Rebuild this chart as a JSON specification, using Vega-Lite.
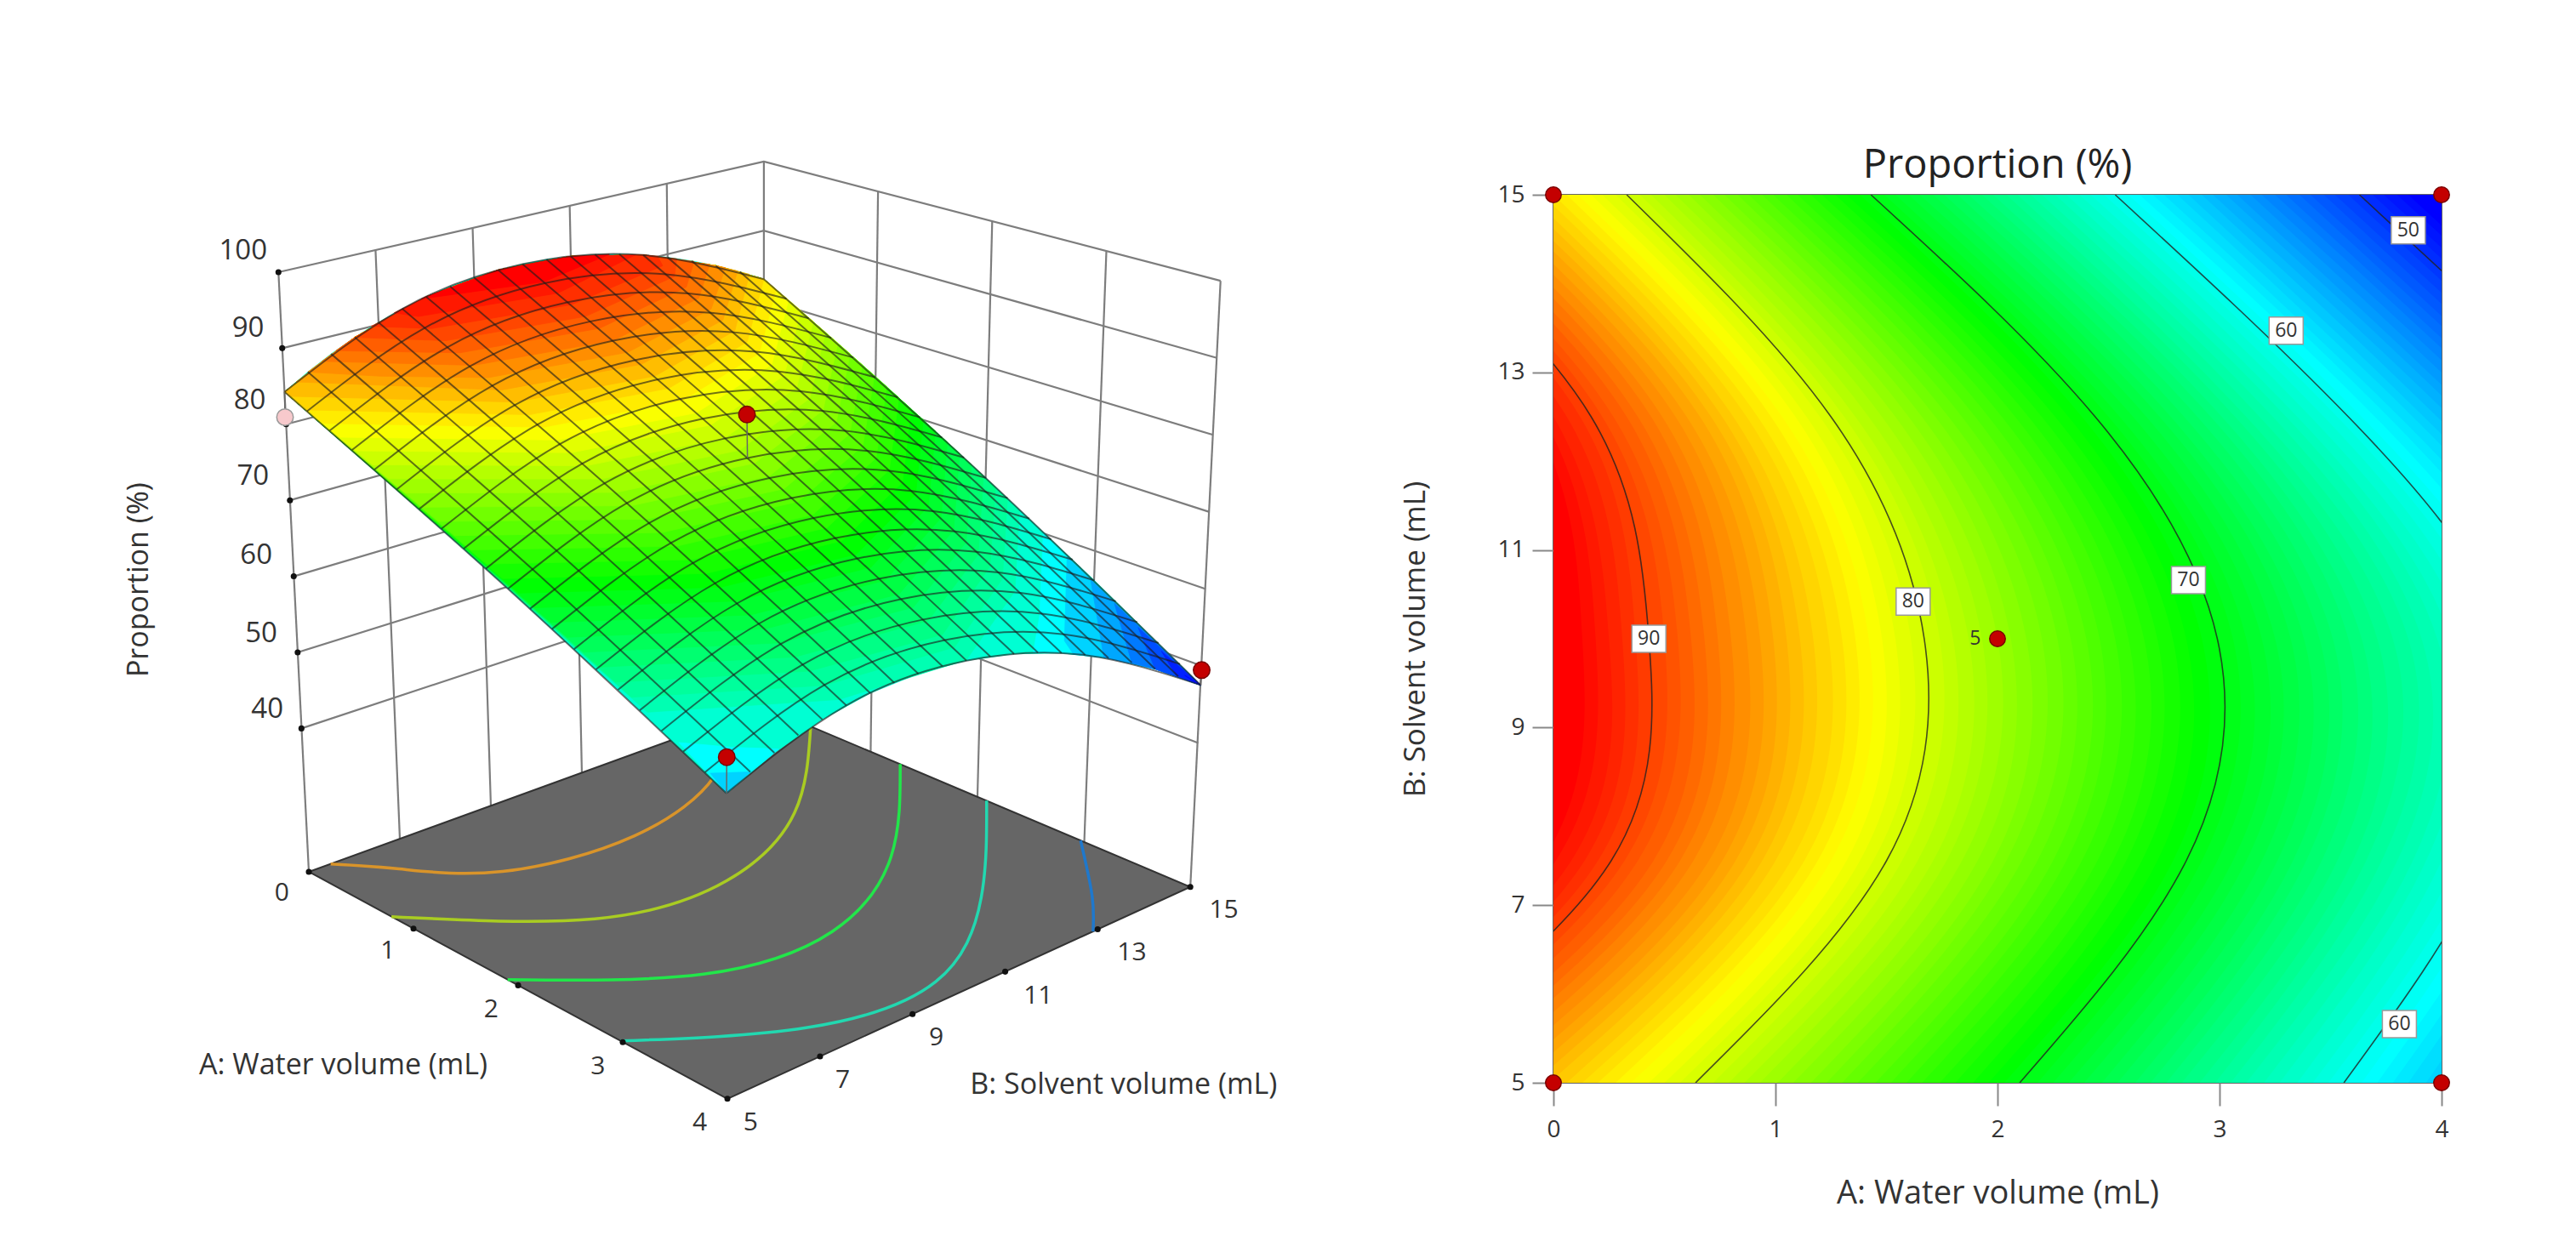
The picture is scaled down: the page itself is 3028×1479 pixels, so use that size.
{"$schema":"https://vega.github.io/schema/vega-lite/v6.json","background":"white","padding":{"left":0,"top":170,"right":0,"bottom":0},"config":{"font":"Open Sans","view":{"stroke":null},"text":{"font":"Open Sans"}},"spacing":45,"hconcat":[
{"width":1600,"height":1243,"encoding":{"x":{"field":"x","type":"quantitative","axis":null,"scale":{"domain":[0,828.6],"nice":false,"zero":false}},"y":{"field":"y","type":"quantitative","axis":null,"scale":{"domain":[761.3,117.6],"nice":false,"zero":false}}},"layer":[
{"data":{"values":[
{"g":"a0","x":169.5,"y":164.7},{"g":"a0","x":465,"y":97.4},{"g":"a0","x":743,"y":170},
{"g":"a1","x":171.8,"y":211},{"g":"a1","x":465,"y":139.4},{"g":"a1","x":740.7,"y":216.9},
{"g":"a2","x":174.2,"y":257.3},{"g":"a2","x":465,"y":181.4},{"g":"a2","x":738.5,"y":263.8},
{"g":"a3","x":176.5,"y":303.6},{"g":"a3","x":465,"y":223.4},{"g":"a3","x":736.2,"y":310.7},
{"g":"a4","x":178.8,"y":349.9},{"g":"a4","x":465,"y":265.4},{"g":"a4","x":734,"y":357.6},
{"g":"a5","x":181.2,"y":396.2},{"g":"a5","x":465,"y":307.4},{"g":"a5","x":731.7,"y":404.5},
{"g":"a6","x":183.5,"y":442.5},{"g":"a6","x":465,"y":349.4},{"g":"a6","x":729.4,"y":451.4},
{"g":"v0","x":169.5,"y":164.7},{"g":"v0","x":188,"y":529.8},
{"g":"v1","x":228.6,"y":151.2},{"g":"v1","x":243.4,"y":509.7},
{"g":"v2","x":287.7,"y":137.8},{"g":"v2","x":298.8,"y":489.6},
{"g":"v3","x":346.8,"y":124.3},{"g":"v3","x":354.2,"y":469.4},
{"g":"v4","x":405.9,"y":110.9},{"g":"v4","x":409.6,"y":449.3},
{"g":"v5","x":465,"y":97.4},{"g":"v5","x":465,"y":429.2},
{"g":"v6","x":534.5,"y":115.6},{"g":"v6","x":530,"y":457},
{"g":"v7","x":604,"y":133.7},{"g":"v7","x":595,"y":484.9},
{"g":"v8","x":673.5,"y":151.9},{"g":"v8","x":660,"y":512.7},
{"g":"v9","x":743,"y":170},{"g":"v9","x":724.6,"y":539}]},
"mark":{"type":"line","stroke":"#7d7d7d","strokeWidth":2.2},"encoding":{"detail":{"field":"g"},"order":{"value":null}}},
{"data":{"values":[{"g":"floor","x":188,"y":529.8},{"g":"floor","x":442.8,"y":668},{"g":"floor","x":724.6,"y":539},{"g":"floor","x":465,"y":429.2}]},
"mark":{"type":"line","interpolate":"linear-closed","fill":"#666666","stroke":"#333333","strokeWidth":2},"encoding":{"detail":{"field":"g"},"order":{"value":null}}},
{"data":{"values":[
{"k":"c86","x":201.3,"y":525},{"k":"c86","x":243,"y":528},{"k":"c86","x":305.9,"y":529.6},{"k":"c86","x":386,"y":508},{"k":"c86","x":434.8,"y":471.7},{"k":"c86","x":442.6,"y":437.2},
{"k":"c79","x":238.3,"y":557.1},{"k":"c79","x":362.3,"y":558.4},{"k":"c79","x":442.3,"y":535.3},{"k":"c79","x":483.6,"y":494},{"k":"c79","x":493.5,"y":441.1},
{"k":"c71","x":309,"y":595.4},{"k":"c71","x":428.2,"y":592.1},{"k":"c71","x":506.6,"y":566.2},{"k":"c71","x":542.4,"y":520.6},{"k":"c71","x":548,"y":464.2},
{"k":"c64","x":377.8,"y":632.8},{"k":"c64","x":491.5,"y":624.6},{"k":"c64","x":569.6,"y":596.7},{"k":"c64","x":597.3,"y":545.5},{"k":"c64","x":600.6,"y":486.5},
{"k":"c56","x":657.8,"y":510.7},{"k":"c56","x":664.8,"y":544.3},{"k":"c56","x":665.4,"y":566.1}]},
"mark":{"type":"line","interpolate":"natural","strokeWidth":3.5},"encoding":{"order":{"value":null},"color":{"field":"k","type":"nominal","legend":null,"scale":{"domain":["c86","c79","c71","c64","c56"],"range":["#d9942a","#a9cc22","#22e64a","#22d8b0","#1f78cc"]}}}},
{"data":{"values":[
{"c":61.01,"x":173.2,"y":237.6},{"c":61.01,"x":187.4,"y":225.5},{"c":61.01,"x":201.6,"y":214.5},{"c":61.01,"x":216,"y":204.4},{"c":61.01,"x":230.4,"y":195.2},{"c":61.01,"x":244.9,"y":187},{"c":61.01,"x":259.5,"y":179.7},{"c":61.01,"x":274,"y":173.4},{"c":61.01,"x":288.6,"y":168},{"c":61.01,"x":303.3,"y":163.4},{"c":61.01,"x":318.1,"y":159.8},{"c":61.01,"x":332.7,"y":157},{"c":61.01,"x":347.5,"y":155.1},{"c":61.01,"x":362.2,"y":154},{"c":61.01,"x":377,"y":153.7},{"c":61.01,"x":391.6,"y":154.3},{"c":61.01,"x":406.4,"y":155.7},{"c":61.01,"x":421.1,"y":157.9},{"c":61.01,"x":435.8,"y":160.8},{"c":61.01,"x":450.4,"y":164.5},{"c":61.01,"x":465,"y":169},
{"c":61.01,"x":533,"y":228.8},{"c":61.01,"x":600.1,"y":290},{"c":61.01,"x":666.2,"y":352.4},
{"c":61.01,"x":731,"y":416.2},{"c":61.01,"x":703.2,"y":406.3},{"c":61.01,"x":674.8,"y":399.7},{"c":61.01,"x":646.2,"y":396.6},{"c":61.01,"x":617.3,"y":397.1},{"c":61.01,"x":588.3,"y":401.2},{"c":61.01,"x":559,"y":409.2},{"c":61.01,"x":529.8,"y":421},{"c":61.01,"x":500.6,"y":437.1},{"c":61.01,"x":471.4,"y":457.4},{"c":61.01,"x":442.3,"y":482},
{"c":61.01,"x":376.2,"y":419},{"c":61.01,"x":309.3,"y":357.4},{"c":61.01,"x":241.6,"y":296.9},
{"c":59.01,"x":731,"y":416.2},{"c":59.01,"x":635.1,"y":323.7},{"c":59.01,"x":632.9,"y":374},{"c":59.01,"x":629,"y":396.4},{"c":59.01,"x":646.2,"y":396.6},{"c":59.01,"x":674.8,"y":399.7},{"c":59.01,"x":703.2,"y":406.3},
{"c":59.02,"x":442.3,"y":482},{"c":59.02,"x":413.2,"y":451.1},{"c":59.02,"x":446,"y":454},{"c":59.02,"x":474,"y":455},
{"c":57.01,"x":731,"y":416.2},{"c":57.01,"x":649.6,"y":337.9},{"c":57.01,"x":648,"y":389.2},{"c":57.01,"x":653.4,"y":397.2},{"c":57.01,"x":674.8,"y":399.7},{"c":57.01,"x":703.2,"y":406.3},
{"c":57.02,"x":442.3,"y":482},{"c":57.02,"x":432.4,"y":469.8},{"c":57.02,"x":456.8,"y":469},
{"c":55.01,"x":731,"y":416.2},{"c":55.01,"x":664,"y":352.1},{"c":55.01,"x":672,"y":399.3},{"c":55.01,"x":703.2,"y":406.3},
{"c":53.01,"x":731,"y":416.2},{"c":53.01,"x":678.4,"y":366.4},{"c":53.01,"x":689,"y":402.5},{"c":53.01,"x":703.2,"y":406.3},
{"c":51.01,"x":731,"y":416.2},{"c":51.01,"x":692.8,"y":381},{"c":51.01,"x":703.2,"y":406.3},
{"c":49.01,"x":731,"y":416.2},{"c":49.01,"x":707,"y":395.5},{"c":49.01,"x":716,"y":410.3},
{"c":47.51,"x":731,"y":416.2},{"c":47.51,"x":721.2,"y":410.2},{"c":47.51,"x":728,"y":414.5},
{"c":62.5,"x":394.1,"y":432.6},{"c":62.5,"x":510.6,"y":424.9},{"c":62.5,"x":588.3,"y":400.7},{"c":62.5,"x":617.8,"y":358.9},{"c":62.5,"x":620.6,"y":309.7},{"c":62.5,"x":546.5,"y":240.9},{"c":62.5,"x":465,"y":169},{"c":62.5,"x":435.8,"y":160.8},{"c":62.5,"x":391.6,"y":154.3},{"c":62.5,"x":347.5,"y":155.1},{"c":62.5,"x":303.3,"y":163.4},{"c":62.5,"x":259.5,"y":179.7},{"c":62.5,"x":216,"y":204.4},{"c":62.5,"x":173.2,"y":237.6},{"c":62.5,"x":282.3,"y":333},
{"c":63.5,"x":384.4,"y":423.5},{"c":63.5,"x":501.7,"y":416.3},{"c":63.5,"x":581.1,"y":393},{"c":63.5,"x":610.2,"y":351.4},{"c":63.5,"x":613.3,"y":302.7},{"c":63.5,"x":546.5,"y":240.9},{"c":63.5,"x":465,"y":169},{"c":63.5,"x":435.8,"y":160.8},{"c":63.5,"x":391.6,"y":154.3},{"c":63.5,"x":347.5,"y":155.1},{"c":63.5,"x":303.3,"y":163.4},{"c":63.5,"x":259.5,"y":179.7},{"c":63.5,"x":216,"y":204.4},{"c":63.5,"x":173.2,"y":237.6},{"c":63.5,"x":282.3,"y":333},
{"c":64.5,"x":374.7,"y":414.3},{"c":64.5,"x":492.7,"y":407.6},{"c":64.5,"x":573.8,"y":385.3},{"c":64.5,"x":602.6,"y":343.9},{"c":64.5,"x":606,"y":295.7},{"c":64.5,"x":533,"y":228.8},{"c":64.5,"x":465,"y":169},{"c":64.5,"x":435.8,"y":160.8},{"c":64.5,"x":391.6,"y":154.3},{"c":64.5,"x":347.5,"y":155.1},{"c":64.5,"x":303.3,"y":163.4},{"c":64.5,"x":259.5,"y":179.7},{"c":64.5,"x":216,"y":204.4},{"c":64.5,"x":173.2,"y":237.6},{"c":64.5,"x":268.8,"y":320.9},
{"c":65.5,"x":365,"y":405.2},{"c":65.5,"x":483.7,"y":399},{"c":65.5,"x":564.9,"y":377},{"c":65.5,"x":595.4,"y":336.6},{"c":65.5,"x":598.7,"y":288.8},{"c":65.5,"x":533,"y":228.8},{"c":65.5,"x":465,"y":169},{"c":65.5,"x":435.8,"y":160.8},{"c":65.5,"x":391.6,"y":154.3},{"c":65.5,"x":347.5,"y":155.1},{"c":65.5,"x":303.3,"y":163.4},{"c":65.5,"x":259.5,"y":179.7},{"c":65.5,"x":216,"y":204.4},{"c":65.5,"x":173.2,"y":237.6},{"c":65.5,"x":268.8,"y":320.9},
{"c":66.5,"x":355.3,"y":396.1},{"c":66.5,"x":474.7,"y":390.4},{"c":66.5,"x":556,"y":368.7},{"c":66.5,"x":588.1,"y":329.2},{"c":66.5,"x":591.4,"y":281.9},{"c":66.5,"x":533,"y":228.8},{"c":66.5,"x":465,"y":169},{"c":66.5,"x":435.8,"y":160.8},{"c":66.5,"x":391.6,"y":154.3},{"c":66.5,"x":347.5,"y":155.1},{"c":66.5,"x":303.3,"y":163.4},{"c":66.5,"x":259.5,"y":179.7},{"c":66.5,"x":216,"y":204.4},{"c":66.5,"x":173.2,"y":237.6},{"c":66.5,"x":268.8,"y":320.9},
{"c":67.5,"x":345.3,"y":387},{"c":67.5,"x":465.8,"y":381.9},{"c":67.5,"x":547.4,"y":360.6},{"c":67.5,"x":580.5,"y":321.8},{"c":67.5,"x":584.1,"y":275},{"c":67.5,"x":519.5,"y":216.7},{"c":67.5,"x":465,"y":169},{"c":67.5,"x":435.8,"y":160.8},{"c":67.5,"x":391.6,"y":154.3},{"c":67.5,"x":347.5,"y":155.1},{"c":67.5,"x":303.3,"y":163.4},{"c":67.5,"x":259.5,"y":179.7},{"c":67.5,"x":216,"y":204.4},{"c":67.5,"x":173.2,"y":237.6},{"c":67.5,"x":255.2,"y":308.9},
{"c":68.5,"x":335.3,"y":377.9},{"c":68.5,"x":456.8,"y":373.4},{"c":68.5,"x":538.7,"y":352.4},{"c":68.5,"x":572.8,"y":314.4},{"c":68.5,"x":576.7,"y":268.2},{"c":68.5,"x":519.5,"y":216.7},{"c":68.5,"x":465,"y":169},{"c":68.5,"x":435.8,"y":160.8},{"c":68.5,"x":391.6,"y":154.3},{"c":68.5,"x":347.5,"y":155.1},{"c":68.5,"x":303.3,"y":163.4},{"c":68.5,"x":259.5,"y":179.7},{"c":68.5,"x":216,"y":204.4},{"c":68.5,"x":173.2,"y":237.6},{"c":68.5,"x":255.2,"y":308.9},
{"c":69.5,"x":325.6,"y":369},{"c":69.5,"x":447.8,"y":365},{"c":69.5,"x":530.1,"y":344.4},{"c":69.5,"x":565.1,"y":307.2},{"c":69.5,"x":569.4,"y":261.4},{"c":69.5,"x":519.5,"y":216.7},{"c":69.5,"x":465,"y":169},{"c":69.5,"x":435.8,"y":160.8},{"c":69.5,"x":391.6,"y":154.3},{"c":69.5,"x":347.5,"y":155.1},{"c":69.5,"x":303.3,"y":163.4},{"c":69.5,"x":259.5,"y":179.7},{"c":69.5,"x":216,"y":204.4},{"c":69.5,"x":173.2,"y":237.6},{"c":69.5,"x":241.6,"y":296.9},
{"c":70.5,"x":315.8,"y":360.1},{"c":70.5,"x":438.8,"y":356.5},{"c":70.5,"x":521.4,"y":336.4},{"c":70.5,"x":557.4,"y":299.9},{"c":70.5,"x":562,"y":254.6},{"c":70.5,"x":519.5,"y":216.7},{"c":70.5,"x":465,"y":169},{"c":70.5,"x":435.8,"y":160.8},{"c":70.5,"x":391.6,"y":154.3},{"c":70.5,"x":347.5,"y":155.1},{"c":70.5,"x":303.3,"y":163.4},{"c":70.5,"x":259.5,"y":179.7},{"c":70.5,"x":216,"y":204.4},{"c":70.5,"x":173.2,"y":237.6},{"c":70.5,"x":241.6,"y":296.9},
{"c":71.5,"x":306,"y":351.3},{"c":71.5,"x":429.7,"y":348.2},{"c":71.5,"x":512.4,"y":328.4},{"c":71.5,"x":549.4,"y":292.6},{"c":71.5,"x":554.6,"y":247.9},{"c":71.5,"x":506,"y":204.7},{"c":71.5,"x":465,"y":169},{"c":71.5,"x":435.8,"y":160.8},{"c":71.5,"x":391.6,"y":154.3},{"c":71.5,"x":347.5,"y":155.1},{"c":71.5,"x":303.3,"y":163.4},{"c":71.5,"x":259.5,"y":179.7},{"c":71.5,"x":216,"y":204.4},{"c":71.5,"x":173.2,"y":237.6},{"c":71.5,"x":241.6,"y":296.9},
{"c":72.5,"x":296.3,"y":342.4},{"c":72.5,"x":420.6,"y":339.8},{"c":72.5,"x":503.4,"y":320.3},{"c":72.5,"x":541.3,"y":285.2},{"c":72.5,"x":547.2,"y":241.1},{"c":72.5,"x":506,"y":204.7},{"c":72.5,"x":465,"y":169},{"c":72.5,"x":435.8,"y":160.8},{"c":72.5,"x":391.6,"y":154.3},{"c":72.5,"x":347.5,"y":155.1},{"c":72.5,"x":303.3,"y":163.4},{"c":72.5,"x":259.5,"y":179.7},{"c":72.5,"x":216,"y":204.4},{"c":72.5,"x":173.2,"y":237.6},{"c":72.5,"x":241.6,"y":296.9},
{"c":73.5,"x":286.6,"y":333.8},{"c":73.5,"x":411.6,"y":331.6},{"c":73.5,"x":494.7,"y":312.4},{"c":73.5,"x":533.3,"y":277.9},{"c":73.5,"x":539.8,"y":234.4},{"c":73.5,"x":506,"y":204.7},{"c":73.5,"x":465,"y":169},{"c":73.5,"x":435.8,"y":160.8},{"c":73.5,"x":391.6,"y":154.3},{"c":73.5,"x":347.5,"y":155.1},{"c":73.5,"x":303.3,"y":163.4},{"c":73.5,"x":259.5,"y":179.7},{"c":73.5,"x":216,"y":204.4},{"c":73.5,"x":173.2,"y":237.6},{"c":73.5,"x":228,"y":284.9},
{"c":74.5,"x":276.8,"y":325.1},{"c":74.5,"x":402.6,"y":323.3},{"c":74.5,"x":485.9,"y":304.4},{"c":74.5,"x":525.2,"y":270.5},{"c":74.5,"x":532.3,"y":227.7},{"c":74.5,"x":492.3,"y":192.8},{"c":74.5,"x":465,"y":169},{"c":74.5,"x":435.8,"y":160.8},{"c":74.5,"x":391.6,"y":154.3},{"c":74.5,"x":347.5,"y":155.1},{"c":74.5,"x":303.3,"y":163.4},{"c":74.5,"x":259.5,"y":179.7},{"c":74.5,"x":216,"y":204.4},{"c":74.5,"x":173.2,"y":237.6},{"c":74.5,"x":228,"y":284.9},
{"c":75.5,"x":267,"y":316.5},{"c":75.5,"x":393.5,"y":315.1},{"c":75.5,"x":477.2,"y":296.6},{"c":75.5,"x":517.2,"y":263.3},{"c":75.5,"x":524.9,"y":221.1},{"c":75.5,"x":492.3,"y":192.8},{"c":75.5,"x":465,"y":169},{"c":75.5,"x":435.8,"y":160.8},{"c":75.5,"x":391.6,"y":154.3},{"c":75.5,"x":347.5,"y":155.1},{"c":75.5,"x":303.3,"y":163.4},{"c":75.5,"x":259.5,"y":179.7},{"c":75.5,"x":216,"y":204.4},{"c":75.5,"x":173.2,"y":237.6},{"c":75.5,"x":214.3,"y":273},
{"c":76.5,"x":257.1,"y":307.8},{"c":76.5,"x":384.3,"y":306.9},{"c":76.5,"x":468.4,"y":288.8},{"c":76.5,"x":509.1,"y":256},{"c":76.5,"x":517.5,"y":214.4},{"c":76.5,"x":492.3,"y":192.8},{"c":76.5,"x":465,"y":169},{"c":76.5,"x":435.8,"y":160.8},{"c":76.5,"x":391.6,"y":154.3},{"c":76.5,"x":347.5,"y":155.1},{"c":76.5,"x":303.3,"y":163.4},{"c":76.5,"x":259.5,"y":179.7},{"c":76.5,"x":216,"y":204.4},{"c":76.5,"x":173.2,"y":237.6},{"c":76.5,"x":214.3,"y":273},
{"c":77.5,"x":246.9,"y":299.2},{"c":77.5,"x":375.2,"y":298.8},{"c":77.5,"x":459.3,"y":281},{"c":77.5,"x":501,"y":248.8},{"c":77.5,"x":510,"y":207.9},{"c":77.5,"x":478.7,"y":180.9},{"c":77.5,"x":465,"y":169},{"c":77.5,"x":435.8,"y":160.8},{"c":77.5,"x":391.6,"y":154.3},{"c":77.5,"x":347.5,"y":155.1},{"c":77.5,"x":303.3,"y":163.4},{"c":77.5,"x":259.5,"y":179.7},{"c":77.5,"x":216,"y":204.4},{"c":77.5,"x":173.2,"y":237.6},{"c":77.5,"x":214.3,"y":273},
{"c":78.5,"x":236.7,"y":290.5},{"c":78.5,"x":366.1,"y":290.6},{"c":78.5,"x":450.2,"y":273.1},{"c":78.5,"x":492.9,"y":241.6},{"c":78.5,"x":502.5,"y":201.3},{"c":78.5,"x":478.7,"y":180.9},{"c":78.5,"x":465,"y":169},{"c":78.5,"x":435.8,"y":160.8},{"c":78.5,"x":391.6,"y":154.3},{"c":78.5,"x":347.5,"y":155.1},{"c":78.5,"x":303.3,"y":163.4},{"c":78.5,"x":259.5,"y":179.7},{"c":78.5,"x":216,"y":204.4},{"c":78.5,"x":173.2,"y":237.6},{"c":78.5,"x":200.7,"y":261.2},
{"c":79.5,"x":226.9,"y":282},{"c":79.5,"x":356.9,"y":282.6},{"c":79.5,"x":441.4,"y":265.5},{"c":79.5,"x":485.1,"y":234.7},{"c":79.5,"x":495.1,"y":194.8},{"c":79.5,"x":465,"y":169},{"c":79.5,"x":435.8,"y":160.8},{"c":79.5,"x":391.6,"y":154.3},{"c":79.5,"x":347.5,"y":155.1},{"c":79.5,"x":303.3,"y":163.4},{"c":79.5,"x":259.5,"y":179.7},{"c":79.5,"x":216,"y":204.4},{"c":79.5,"x":173.2,"y":237.6},{"c":79.5,"x":200.7,"y":261.2},
{"c":80.5,"x":217,"y":273.5},{"c":80.5,"x":347.7,"y":274.6},{"c":80.5,"x":432.5,"y":257.8},{"c":80.5,"x":477.3,"y":227.7},{"c":80.5,"x":487.6,"y":188.2},{"c":80.5,"x":465,"y":169},{"c":80.5,"x":435.8,"y":160.8},{"c":80.5,"x":391.6,"y":154.3},{"c":80.5,"x":347.5,"y":155.1},{"c":80.5,"x":303.3,"y":163.4},{"c":80.5,"x":259.5,"y":179.7},{"c":80.5,"x":216,"y":204.4},{"c":80.5,"x":173.2,"y":237.6},{"c":80.5,"x":200.7,"y":261.2},
{"c":81.5,"x":207,"y":265.2},{"c":81.5,"x":339.3,"y":266.9},{"c":81.5,"x":424,"y":250.3},{"c":81.5,"x":469.8,"y":220.9},{"c":81.5,"x":480,"y":181.7},{"c":81.5,"x":465,"y":169},{"c":81.5,"x":435.8,"y":160.8},{"c":81.5,"x":391.6,"y":154.3},{"c":81.5,"x":347.5,"y":155.1},{"c":81.5,"x":303.3,"y":163.4},{"c":81.5,"x":259.5,"y":179.7},{"c":81.5,"x":216,"y":204.4},{"c":81.5,"x":173.2,"y":237.6},{"c":81.5,"x":186.9,"y":249.4},
{"c":82.5,"x":197.1,"y":256.8},{"c":82.5,"x":330.8,"y":259.1},{"c":82.5,"x":415.6,"y":242.8},{"c":82.5,"x":462.2,"y":214},{"c":82.5,"x":472.5,"y":175.2},{"c":82.5,"x":465,"y":169},{"c":82.5,"x":435.8,"y":160.8},{"c":82.5,"x":391.6,"y":154.3},{"c":82.5,"x":347.5,"y":155.1},{"c":82.5,"x":303.3,"y":163.4},{"c":82.5,"x":259.5,"y":179.7},{"c":82.5,"x":216,"y":204.4},{"c":82.5,"x":173.2,"y":237.6},{"c":82.5,"x":186.9,"y":249.4},
{"c":83.5,"x":187.2,"y":248.6},{"c":83.5,"x":322.3,"y":251.5},{"c":83.5,"x":407.1,"y":235.4},{"c":83.5,"x":454.8,"y":207.2},{"c":83.5,"x":465,"y":169},{"c":83.5,"x":435.8,"y":160.8},{"c":83.5,"x":391.6,"y":154.3},{"c":83.5,"x":347.5,"y":155.1},{"c":83.5,"x":303.3,"y":163.4},{"c":83.5,"x":259.5,"y":179.7},{"c":83.5,"x":216,"y":204.4},{"c":83.5,"x":173.2,"y":237.6},
{"c":84.5,"x":177.2,"y":240.3},{"c":84.5,"x":313.7,"y":243.8},{"c":84.5,"x":398.6,"y":228},{"c":84.5,"x":447.3,"y":200.4},{"c":84.5,"x":456.2,"y":166},{"c":84.5,"x":435.8,"y":160.8},{"c":84.5,"x":391.6,"y":154.3},{"c":84.5,"x":347.5,"y":155.1},{"c":84.5,"x":303.3,"y":163.4},{"c":84.5,"x":259.5,"y":179.7},{"c":84.5,"x":216,"y":204.4},{"c":84.5,"x":173.2,"y":237.6},
{"c":85.5,"x":180.3,"y":231.5},{"c":85.5,"x":305.5,"y":236.4},{"c":85.5,"x":390.4,"y":220.8},{"c":85.5,"x":440.1,"y":193.8},{"c":85.5,"x":449,"y":164},{"c":85.5,"x":435.8,"y":160.8},{"c":85.5,"x":391.6,"y":154.3},{"c":85.5,"x":347.5,"y":155.1},{"c":85.5,"x":303.3,"y":163.4},{"c":85.5,"x":259.5,"y":179.7},{"c":85.5,"x":216,"y":204.4},
{"c":86.5,"x":187.4,"y":225.5},{"c":86.5,"x":231,"y":228},{"c":86.5,"x":297.2,"y":228.9},{"c":86.5,"x":382.1,"y":213.5},{"c":86.5,"x":432.9,"y":187.1},{"c":86.5,"x":441.6,"y":162},{"c":86.5,"x":435.8,"y":160.8},{"c":86.5,"x":391.6,"y":154.3},{"c":86.5,"x":347.5,"y":155.1},{"c":86.5,"x":303.3,"y":163.4},{"c":86.5,"x":259.5,"y":179.7},{"c":86.5,"x":216,"y":204.4},
{"c":87.5,"x":196,"y":219},{"c":87.5,"x":288.6,"y":221.4},{"c":87.5,"x":373.6,"y":206.2},{"c":87.5,"x":425.4,"y":180.5},{"c":87.5,"x":432,"y":160},{"c":87.5,"x":391.6,"y":154.3},{"c":87.5,"x":347.5,"y":155.1},{"c":87.5,"x":303.3,"y":163.4},{"c":87.5,"x":259.5,"y":179.7},{"c":87.5,"x":216,"y":204.4},
{"c":88.5,"x":204.5,"y":212.5},{"c":88.5,"x":280,"y":213.8},{"c":88.5,"x":365,"y":198.9},{"c":88.5,"x":417.8,"y":173.8},{"c":88.5,"x":422.5,"y":158.2},{"c":88.5,"x":391.6,"y":154.3},{"c":88.5,"x":347.5,"y":155.1},{"c":88.5,"x":303.3,"y":163.4},{"c":88.5,"x":259.5,"y":179.7},{"c":88.5,"x":216,"y":204.4},
{"c":89.5,"x":216,"y":204.4},{"c":89.5,"x":271.4,"y":206.4},{"c":89.5,"x":356.4,"y":191.7},{"c":89.5,"x":410.6,"y":167.3},{"c":89.5,"x":412,"y":156.6},{"c":89.5,"x":391.6,"y":154.3},{"c":89.5,"x":347.5,"y":155.1},{"c":89.5,"x":303.3,"y":163.4},{"c":89.5,"x":259.5,"y":179.7},
{"c":90.5,"x":226,"y":197.7},{"c":90.5,"x":262.8,"y":199},{"c":90.5,"x":347.8,"y":184.5},{"c":90.5,"x":403.4,"y":160.8},{"c":90.5,"x":400.3,"y":155},{"c":90.5,"x":391.6,"y":154.3},{"c":90.5,"x":347.5,"y":155.1},{"c":90.5,"x":303.3,"y":163.4},{"c":90.5,"x":259.5,"y":179.7},
{"c":91.5,"x":240,"y":189.5},{"c":91.5,"x":254.5,"y":191.7},{"c":91.5,"x":339.5,"y":177.5},{"c":91.5,"x":387,"y":154.1},{"c":91.5,"x":347.5,"y":155.1},{"c":91.5,"x":303.3,"y":163.4},{"c":91.5,"x":259.5,"y":179.7},
{"c":92.5,"x":256.5,"y":181},{"c":92.5,"x":331.2,"y":170.5},{"c":92.5,"x":371,"y":153.8},{"c":92.5,"x":347.5,"y":155.1},{"c":92.5,"x":303.3,"y":163.4},{"c":92.5,"x":259.5,"y":179.7}]},
"mark":{"type":"line","interpolate":"linear-closed","strokeWidth":0.8},"encoding":{"detail":{"field":"c"},"order":{"value":null},
"fill":{"field":"c","type":"quantitative","legend":null,"scale":{"domain":[47.5,59,70.6,81.7,92.5],"range":["#0000ff","#00ffff","#00ff00","#ffff00","#ff0000"],"interpolate":"rgb"}},
"stroke":{"field":"c","type":"quantitative","legend":null,"scale":{"domain":[47.5,59,70.6,81.7,92.5],"range":["#0000ff","#00ffff","#00ff00","#ffff00","#ff0000"],"interpolate":"rgb"}}}},
{"data":{"values":[
{"m":0,"x":173.2,"y":237.6},{"m":0,"x":244.9,"y":187},{"m":0,"x":318.1,"y":159.8},{"m":0,"x":391.6,"y":154.3},{"m":0,"x":465,"y":169},
{"m":1,"x":186.9,"y":249.4},{"m":1,"x":258.7,"y":198.6},{"m":1,"x":332,"y":171.3},{"m":1,"x":405.4,"y":166},{"m":1,"x":478.7,"y":180.9},
{"m":2,"x":200.7,"y":261.2},{"m":2,"x":272.5,"y":210.3},{"m":2,"x":345.8,"y":183},{"m":2,"x":419.2,"y":177.7},{"m":2,"x":492.3,"y":192.8},
{"m":3,"x":214.3,"y":273},{"m":3,"x":286.3,"y":221.9},{"m":3,"x":359.5,"y":194.7},{"m":3,"x":432.9,"y":189.5},{"m":3,"x":506,"y":204.7},
{"m":4,"x":228,"y":284.9},{"m":4,"x":300,"y":233.7},{"m":4,"x":373.3,"y":206.4},{"m":4,"x":446.6,"y":201.3},{"m":4,"x":519.5,"y":216.7},
{"m":5,"x":241.6,"y":296.9},{"m":5,"x":313.7,"y":245.5},{"m":5,"x":387,"y":218.2},{"m":5,"x":460.2,"y":213.2},{"m":5,"x":533,"y":228.8},
{"m":6,"x":255.2,"y":308.9},{"m":6,"x":327.4,"y":257.4},{"m":6,"x":400.7,"y":230},{"m":6,"x":473.9,"y":225.2},{"m":6,"x":546.5,"y":240.9},
{"m":7,"x":268.8,"y":320.9},{"m":7,"x":341,"y":269.3},{"m":7,"x":414.3,"y":241.9},{"m":7,"x":487.4,"y":237.2},{"m":7,"x":560,"y":253.1},
{"m":8,"x":282.3,"y":333},{"m":8,"x":354.6,"y":281.2},{"m":8,"x":427.9,"y":253.9},{"m":8,"x":501,"y":249.2},{"m":8,"x":573.4,"y":265.3},
{"m":9,"x":295.8,"y":345.2},{"m":9,"x":368.1,"y":293.2},{"m":9,"x":441.5,"y":265.9},{"m":9,"x":514.5,"y":261.3},{"m":9,"x":586.8,"y":277.6},
{"m":10,"x":309.3,"y":357.4},{"m":10,"x":381.7,"y":305.3},{"m":10,"x":455,"y":277.9},{"m":10,"x":527.9,"y":273.5},{"m":10,"x":600.1,"y":290},
{"m":11,"x":322.7,"y":369.6},{"m":11,"x":395.2,"y":317.4},{"m":11,"x":468.5,"y":290},{"m":11,"x":541.4,"y":285.7},{"m":11,"x":613.4,"y":302.3},
{"m":12,"x":336.1,"y":381.9},{"m":12,"x":408.6,"y":329.5},{"m":12,"x":482,"y":302.2},{"m":12,"x":554.8,"y":297.9},{"m":12,"x":626.6,"y":314.8},
{"m":13,"x":349.5,"y":394.2},{"m":13,"x":422.1,"y":341.7},{"m":13,"x":495.4,"y":314.4},{"m":13,"x":568.1,"y":310.2},{"m":13,"x":639.9,"y":327.3},
{"m":14,"x":362.8,"y":406.6},{"m":14,"x":435.5,"y":354},{"m":14,"x":508.8,"y":326.6},{"m":14,"x":581.4,"y":322.6},{"m":14,"x":653,"y":339.8},
{"m":15,"x":376.2,"y":419},{"m":15,"x":448.8,"y":366.3},{"m":15,"x":522.1,"y":339},{"m":15,"x":594.7,"y":335},{"m":15,"x":666.2,"y":352.4},
{"m":16,"x":389.4,"y":431.5},{"m":16,"x":462.2,"y":378.6},{"m":16,"x":535.5,"y":351.3},{"m":16,"x":608,"y":347.5},{"m":16,"x":679.2,"y":365.1},
{"m":17,"x":402.7,"y":444},{"m":17,"x":475.5,"y":391},{"m":17,"x":548.8,"y":363.7},{"m":17,"x":621.2,"y":360},{"m":17,"x":692.3,"y":377.8},
{"m":18,"x":415.9,"y":456.6},{"m":18,"x":488.8,"y":403.5},{"m":18,"x":562,"y":376.2},{"m":18,"x":634.3,"y":372.6},{"m":18,"x":705.3,"y":390.5},
{"m":19,"x":429.1,"y":469.2},{"m":19,"x":502,"y":416},{"m":19,"x":575.2,"y":388.7},{"m":19,"x":647.5,"y":385.2},{"m":19,"x":718.3,"y":403.3},
{"m":20,"x":442.3,"y":481.9},{"m":20,"x":515.2,"y":428.5},{"m":20,"x":588.4,"y":401.3},{"m":20,"x":660.6,"y":397.9},{"m":20,"x":731.2,"y":416.2},
{"m":21,"x":173.2,"y":237.6},{"m":21,"x":309.2,"y":357.5},{"m":21,"x":442.3,"y":482},
{"m":22,"x":187.4,"y":225.5},{"m":22,"x":323.6,"y":345.1},{"m":22,"x":456.8,"y":469},
{"m":23,"x":201.6,"y":214.5},{"m":23,"x":338,"y":333.6},{"m":23,"x":471.4,"y":457.4},
{"m":24,"x":216,"y":204.4},{"m":24,"x":352.5,"y":323.2},{"m":24,"x":486,"y":446.7},
{"m":25,"x":230.4,"y":195.2},{"m":25,"x":367,"y":313.8},{"m":25,"x":500.6,"y":437.1},
{"m":26,"x":244.9,"y":187},{"m":26,"x":381.7,"y":305.4},{"m":26,"x":515.2,"y":428.5},
{"m":27,"x":259.5,"y":179.7},{"m":27,"x":396.2,"y":298},{"m":27,"x":529.8,"y":421},
{"m":28,"x":274,"y":173.4},{"m":28,"x":410.9,"y":291.6},{"m":28,"x":544.4,"y":414.7},
{"m":29,"x":288.6,"y":168},{"m":29,"x":425.5,"y":286.1},{"m":29,"x":559,"y":409.2},
{"m":30,"x":303.3,"y":163.4},{"m":30,"x":440.2,"y":281.6},{"m":30,"x":573.7,"y":404.6},
{"m":31,"x":318.1,"y":159.8},{"m":31,"x":454.9,"y":277.9},{"m":31,"x":588.3,"y":401.2},
{"m":32,"x":332.7,"y":157},{"m":32,"x":469.5,"y":275.5},{"m":32,"x":602.8,"y":398.7},
{"m":33,"x":347.5,"y":155.1},{"m":33,"x":484.1,"y":273.6},{"m":33,"x":617.3,"y":397.1},
{"m":34,"x":362.2,"y":154},{"m":34,"x":498.8,"y":272.7},{"m":34,"x":631.8,"y":396.3},
{"m":35,"x":377,"y":153.7},{"m":35,"x":513.4,"y":272.6},{"m":35,"x":646.2,"y":396.6},
{"m":36,"x":391.6,"y":154.3},{"m":36,"x":528,"y":273.5},{"m":36,"x":660.6,"y":397.8},
{"m":37,"x":406.4,"y":155.7},{"m":37,"x":542.5,"y":275.2},{"m":37,"x":674.8,"y":399.7},
{"m":38,"x":421.1,"y":157.9},{"m":38,"x":557,"y":277.8},{"m":38,"x":689,"y":402.5},
{"m":39,"x":435.8,"y":160.8},{"m":39,"x":571.4,"y":281},{"m":39,"x":703.2,"y":406.3},
{"m":40,"x":450.4,"y":164.5},{"m":40,"x":585.8,"y":285.1},{"m":40,"x":717.2,"y":410.8},
{"m":41,"x":465,"y":169},{"m":41,"x":600,"y":290},{"m":41,"x":731,"y":416.2}]},
"mark":{"type":"line","interpolate":"natural","stroke":"#1c1c1c","strokeWidth":2,"opacity":0.62},"encoding":{"detail":{"field":"m"},"order":{"value":null}}},
{"data":{"values":[{"g":"s1","x":454.7,"y":251.4},{"g":"s1","x":455,"y":277.9},{"g":"s2","x":442.4,"y":460},{"g":"s2","x":442.3,"y":482},{"g":"s3","x":731.5,"y":407},{"g":"s3","x":731,"y":416.2},{"g":"s4","x":173.5,"y":253},{"g":"s4","x":173.2,"y":237.6}]},
"mark":{"type":"line","stroke":"#666666","strokeWidth":1.5},"encoding":{"detail":{"field":"g"},"order":{"value":null}}},
{"data":{"values":[{"x":169.5,"y":164.7},{"x":171.8,"y":211},{"x":174.2,"y":257.3},{"x":176.5,"y":303.6},{"x":178.8,"y":349.9},{"x":181.2,"y":396.2},{"x":183.5,"y":442.5},{"x":188,"y":529.8},{"x":251.7,"y":564.4},{"x":315.4,"y":598.9},{"x":379.1,"y":633.5},{"x":442.8,"y":668},{"x":499.2,"y":642.2},{"x":555.5,"y":616.4},{"x":611.9,"y":590.6},{"x":668.2,"y":564.8},{"x":724.6,"y":539}]},
"mark":{"type":"point","filled":true,"fill":"#111111","opacity":1,"size":50}},
{"data":{"values":[{"x":454.7,"y":251.4},{"x":442.4,"y":460},{"x":731.5,"y":407}]},
"mark":{"type":"point","filled":true,"fill":"#c40000","stroke":"#7a0000","strokeWidth":1.5,"opacity":1,"size":380}},
{"data":{"values":[{"x":173.5,"y":253}]},
"mark":{"type":"point","filled":true,"fill":"#f7c9cc","stroke":"#999999","strokeWidth":1.5,"opacity":1,"size":380}},
{"data":{"values":[{"x":148,"y":152,"t":"100"},{"x":151,"y":199,"t":"90"},{"x":152,"y":243,"t":"80"},{"x":154,"y":289,"t":"70"},{"x":156,"y":337,"t":"60"},{"x":159,"y":385,"t":"50"},{"x":162.7,"y":431,"t":"40"}]},
"mark":{"type":"text","fontSize":33,"color":"#333333"},"encoding":{"text":{"field":"t"}}},
{"data":{"values":[{"x":171.6,"y":543,"t":"0"},{"x":236,"y":578,"t":"1"},{"x":299,"y":613.7,"t":"2"},{"x":364,"y":648.5,"t":"3"},{"x":426,"y":682.6,"t":"4"},{"x":457,"y":682.6,"t":"5"},{"x":513,"y":656.6,"t":"7"},{"x":570,"y":630.8,"t":"9"},{"x":632,"y":605.4,"t":"11"},{"x":689,"y":579,"t":"13"},{"x":745,"y":553,"t":"15"}]},
"mark":{"type":"text","fontSize":30,"color":"#333333"},"encoding":{"text":{"field":"t"}}},
{"data":{"values":[{"x":209,"y":648,"t":"A: Water volume (mL)"},{"x":684,"y":660,"t":"B: Solvent volume (mL)"}]},
"mark":{"type":"text","fontSize":34,"color":"#333333"},"encoding":{"text":{"field":"t"}}},
{"data":{"values":[{"x":85,"y":352,"t":"Proportion (%)"}]},
"mark":{"type":"text","fontSize":34,"color":"#333333","angle":270},"encoding":{"text":{"field":"t"}}}
]},
{"width":1044,"height":1044,"title":{"text":"Proportion (%)","fontSize":47,"fontWeight":"normal","color":"#222222","font":"Open Sans","offset":-4,"anchor":"middle"},"view":{"stroke":"#666666","strokeWidth":2},
"data":{"values":[
{"l":46,"b":5,"a":5.61},{"l":46,"b":7.5,"a":6.09},{"l":46,"b":10,"a":6.14},{"l":46,"b":12.5,"a":5.18},{"l":46,"b":15,"a":4.07},
{"l":47,"b":5,"a":5.46},{"l":47,"b":7.5,"a":5.96},{"l":47,"b":10,"a":6.01},{"l":47,"b":12.5,"a":5.06},{"l":47,"b":15,"a":3.96},
{"l":47.5,"b":5,"a":5.39},{"l":47.5,"b":7.5,"a":5.89},{"l":47.5,"b":10,"a":5.95},{"l":47.5,"b":12.5,"a":5},{"l":47.5,"b":15,"a":3.91},
{"l":48,"b":5,"a":5.31},{"l":48,"b":7.5,"a":5.82},{"l":48,"b":10,"a":5.88},{"l":48,"b":12.5,"a":4.95},{"l":48,"b":15,"a":3.85},
{"l":48.5,"b":5,"a":5.24},{"l":48.5,"b":7.5,"a":5.76},{"l":48.5,"b":10,"a":5.82},{"l":48.5,"b":12.5,"a":4.9},{"l":48.5,"b":15,"a":3.8},
{"l":49,"b":5,"a":5.17},{"l":49,"b":7.5,"a":5.69},{"l":49,"b":10,"a":5.75},{"l":49,"b":12.5,"a":4.84},{"l":49,"b":15,"a":3.74},
{"l":49.5,"b":5,"a":5.1},{"l":49.5,"b":7.5,"a":5.62},{"l":49.5,"b":10,"a":5.69},{"l":49.5,"b":12.5,"a":4.78},{"l":49.5,"b":15,"a":3.69},
{"l":50,"b":5,"a":5.02},{"l":50,"b":7.5,"a":5.55},{"l":50,"b":10,"a":5.62},{"l":50,"b":12.5,"a":4.72},{"l":50,"b":15,"a":3.63},
{"l":50.5,"b":5,"a":4.95},{"l":50.5,"b":7.5,"a":5.49},{"l":50.5,"b":10,"a":5.56},{"l":50.5,"b":12.5,"a":4.67},{"l":50.5,"b":15,"a":3.58},
{"l":51,"b":5,"a":4.88},{"l":51,"b":7.5,"a":5.42},{"l":51,"b":10,"a":5.49},{"l":51,"b":12.5,"a":4.61},{"l":51,"b":15,"a":3.52},
{"l":51.5,"b":5,"a":4.81},{"l":51.5,"b":7.5,"a":5.35},{"l":51.5,"b":10,"a":5.42},{"l":51.5,"b":12.5,"a":4.55},{"l":51.5,"b":15,"a":3.47},
{"l":52,"b":5,"a":4.73},{"l":52,"b":7.5,"a":5.28},{"l":52,"b":10,"a":5.35},{"l":52,"b":12.5,"a":4.49},{"l":52,"b":15,"a":3.41},
{"l":52.5,"b":5,"a":4.66},{"l":52.5,"b":7.5,"a":5.22},{"l":52.5,"b":10,"a":5.29},{"l":52.5,"b":12.5,"a":4.44},{"l":52.5,"b":15,"a":3.36},
{"l":53,"b":5,"a":4.58},{"l":53,"b":7.5,"a":5.15},{"l":53,"b":10,"a":5.22},{"l":53,"b":12.5,"a":4.38},{"l":53,"b":15,"a":3.3},
{"l":53.5,"b":5,"a":4.51},{"l":53.5,"b":7.5,"a":5.08},{"l":53.5,"b":10,"a":5.16},{"l":53.5,"b":12.5,"a":4.33},{"l":53.5,"b":15,"a":3.25},
{"l":54,"b":5,"a":4.44},{"l":54,"b":7.5,"a":5.01},{"l":54,"b":10,"a":5.09},{"l":54,"b":12.5,"a":4.27},{"l":54,"b":15,"a":3.19},
{"l":54.5,"b":5,"a":4.37},{"l":54.5,"b":7.5,"a":4.95},{"l":54.5,"b":10,"a":5.03},{"l":54.5,"b":12.5,"a":4.21},{"l":54.5,"b":15,"a":3.14},
{"l":55,"b":5,"a":4.29},{"l":55,"b":7.5,"a":4.88},{"l":55,"b":10,"a":4.96},{"l":55,"b":12.5,"a":4.15},{"l":55,"b":15,"a":3.08},
{"l":55.5,"b":5,"a":4.22},{"l":55.5,"b":7.5,"a":4.81},{"l":55.5,"b":10,"a":4.9},{"l":55.5,"b":12.5,"a":4.1},{"l":55.5,"b":15,"a":3.03},
{"l":56,"b":5,"a":4.15},{"l":56,"b":7.5,"a":4.74},{"l":56,"b":10,"a":4.83},{"l":56,"b":12.5,"a":4.04},{"l":56,"b":15,"a":2.97},
{"l":56.5,"b":5,"a":4.08},{"l":56.5,"b":7.5,"a":4.68},{"l":56.5,"b":10,"a":4.77},{"l":56.5,"b":12.5,"a":3.98},{"l":56.5,"b":15,"a":2.92},
{"l":57,"b":5,"a":4},{"l":57,"b":7.5,"a":4.61},{"l":57,"b":10,"a":4.7},{"l":57,"b":12.5,"a":3.92},{"l":57,"b":15,"a":2.86},
{"l":57.5,"b":5,"a":3.93},{"l":57.5,"b":7.5,"a":4.54},{"l":57.5,"b":10,"a":4.64},{"l":57.5,"b":12.5,"a":3.87},{"l":57.5,"b":15,"a":2.81},
{"l":58,"b":5,"a":3.85},{"l":58,"b":7.5,"a":4.47},{"l":58,"b":10,"a":4.57},{"l":58,"b":12.5,"a":3.81},{"l":58,"b":15,"a":2.75},
{"l":58.5,"b":5,"a":3.78},{"l":58.5,"b":7.5,"a":4.41},{"l":58.5,"b":10,"a":4.5},{"l":58.5,"b":12.5,"a":3.76},{"l":58.5,"b":15,"a":2.7},
{"l":59,"b":5,"a":3.71},{"l":59,"b":7.5,"a":4.34},{"l":59,"b":10,"a":4.43},{"l":59,"b":12.5,"a":3.7},{"l":59,"b":15,"a":2.64},
{"l":59.5,"b":5,"a":3.64},{"l":59.5,"b":7.5,"a":4.27},{"l":59.5,"b":10,"a":4.37},{"l":59.5,"b":12.5,"a":3.64},{"l":59.5,"b":15,"a":2.59},
{"l":60,"b":5,"a":3.56},{"l":60,"b":7.5,"a":4.2},{"l":60,"b":10,"a":4.3},{"l":60,"b":12.5,"a":3.58},{"l":60,"b":15,"a":2.53},
{"l":60.5,"b":5,"a":3.49},{"l":60.5,"b":7.5,"a":4.14},{"l":60.5,"b":10,"a":4.24},{"l":60.5,"b":12.5,"a":3.53},{"l":60.5,"b":15,"a":2.48},
{"l":61,"b":5,"a":3.42},{"l":61,"b":7.5,"a":4.07},{"l":61,"b":10,"a":4.17},{"l":61,"b":12.5,"a":3.47},{"l":61,"b":15,"a":2.42},
{"l":61.5,"b":5,"a":3.35},{"l":61.5,"b":7.5,"a":4},{"l":61.5,"b":10,"a":4.11},{"l":61.5,"b":12.5,"a":3.41},{"l":61.5,"b":15,"a":2.37},
{"l":62,"b":5,"a":3.27},{"l":62,"b":7.5,"a":3.93},{"l":62,"b":10,"a":4.04},{"l":62,"b":12.5,"a":3.35},{"l":62,"b":15,"a":2.31},
{"l":62.5,"b":5,"a":3.2},{"l":62.5,"b":7.5,"a":3.87},{"l":62.5,"b":10,"a":3.98},{"l":62.5,"b":12.5,"a":3.3},{"l":62.5,"b":15,"a":2.26},
{"l":63,"b":5,"a":3.12},{"l":63,"b":7.5,"a":3.8},{"l":63,"b":10,"a":3.91},{"l":63,"b":12.5,"a":3.24},{"l":63,"b":15,"a":2.2},
{"l":63.5,"b":5,"a":3.05},{"l":63.5,"b":7.5,"a":3.73},{"l":63.5,"b":10,"a":3.85},{"l":63.5,"b":12.5,"a":3.18},{"l":63.5,"b":15,"a":2.15},
{"l":64,"b":5,"a":2.98},{"l":64,"b":7.5,"a":3.66},{"l":64,"b":10,"a":3.78},{"l":64,"b":12.5,"a":3.12},{"l":64,"b":15,"a":2.09},
{"l":64.5,"b":5,"a":2.91},{"l":64.5,"b":7.5,"a":3.6},{"l":64.5,"b":10,"a":3.71},{"l":64.5,"b":12.5,"a":3.07},{"l":64.5,"b":15,"a":2.04},
{"l":65,"b":5,"a":2.83},{"l":65,"b":7.5,"a":3.53},{"l":65,"b":10,"a":3.64},{"l":65,"b":12.5,"a":3.01},{"l":65,"b":15,"a":1.98},
{"l":65.5,"b":5,"a":2.76},{"l":65.5,"b":7.5,"a":3.46},{"l":65.5,"b":10,"a":3.58},{"l":65.5,"b":12.5,"a":2.96},{"l":65.5,"b":15,"a":1.93},
{"l":66,"b":5,"a":2.69},{"l":66,"b":7.5,"a":3.39},{"l":66,"b":10,"a":3.51},{"l":66,"b":12.5,"a":2.9},{"l":66,"b":15,"a":1.87},
{"l":66.5,"b":5,"a":2.62},{"l":66.5,"b":7.5,"a":3.33},{"l":66.5,"b":10,"a":3.45},{"l":66.5,"b":12.5,"a":2.84},{"l":66.5,"b":15,"a":1.82},
{"l":67,"b":5,"a":2.54},{"l":67,"b":7.5,"a":3.26},{"l":67,"b":10,"a":3.38},{"l":67,"b":12.5,"a":2.78},{"l":67,"b":15,"a":1.76},
{"l":67.5,"b":5,"a":2.47},{"l":67.5,"b":7.5,"a":3.19},{"l":67.5,"b":10,"a":3.32},{"l":67.5,"b":12.5,"a":2.73},{"l":67.5,"b":15,"a":1.71},
{"l":68,"b":5,"a":2.39},{"l":68,"b":7.5,"a":3.12},{"l":68,"b":10,"a":3.25},{"l":68,"b":12.5,"a":2.67},{"l":68,"b":15,"a":1.65},
{"l":68.5,"b":5,"a":2.32},{"l":68.5,"b":7.5,"a":3.06},{"l":68.5,"b":10,"a":3.19},{"l":68.5,"b":12.5,"a":2.61},{"l":68.5,"b":15,"a":1.6},
{"l":69,"b":5,"a":2.25},{"l":69,"b":7.5,"a":2.99},{"l":69,"b":10,"a":3.12},{"l":69,"b":12.5,"a":2.55},{"l":69,"b":15,"a":1.54},
{"l":69.5,"b":5,"a":2.18},{"l":69.5,"b":7.5,"a":2.92},{"l":69.5,"b":10,"a":3.06},{"l":69.5,"b":12.5,"a":2.5},{"l":69.5,"b":15,"a":1.49},
{"l":70,"b":5,"a":2.1},{"l":70,"b":7.5,"a":2.85},{"l":70,"b":10,"a":2.99},{"l":70,"b":12.5,"a":2.44},{"l":70,"b":15,"a":1.43},
{"l":70.5,"b":5,"a":2.03},{"l":70.5,"b":7.5,"a":2.79},{"l":70.5,"b":10,"a":2.92},{"l":70.5,"b":12.5,"a":2.38},{"l":70.5,"b":15,"a":1.38},
{"l":71,"b":5,"a":1.96},{"l":71,"b":7.5,"a":2.72},{"l":71,"b":10,"a":2.85},{"l":71,"b":12.5,"a":2.32},{"l":71,"b":15,"a":1.32},
{"l":71.5,"b":5,"a":1.89},{"l":71.5,"b":7.5,"a":2.65},{"l":71.5,"b":10,"a":2.79},{"l":71.5,"b":12.5,"a":2.26},{"l":71.5,"b":15,"a":1.27},
{"l":72,"b":5,"a":1.81},{"l":72,"b":7.5,"a":2.58},{"l":72,"b":10,"a":2.72},{"l":72,"b":12.5,"a":2.2},{"l":72,"b":15,"a":1.21},
{"l":72.5,"b":5,"a":1.74},{"l":72.5,"b":7.5,"a":2.52},{"l":72.5,"b":10,"a":2.66},{"l":72.5,"b":12.5,"a":2.14},{"l":72.5,"b":15,"a":1.16},
{"l":73,"b":5,"a":1.66},{"l":73,"b":7.5,"a":2.45},{"l":73,"b":10,"a":2.59},{"l":73,"b":12.5,"a":2.08},{"l":73,"b":15,"a":1.1},
{"l":73.5,"b":5,"a":1.59},{"l":73.5,"b":7.5,"a":2.38},{"l":73.5,"b":10,"a":2.53},{"l":73.5,"b":12.5,"a":2.02},{"l":73.5,"b":15,"a":1.05},
{"l":74,"b":5,"a":1.52},{"l":74,"b":7.5,"a":2.31},{"l":74,"b":10,"a":2.46},{"l":74,"b":12.5,"a":1.96},{"l":74,"b":15,"a":0.99},
{"l":74.5,"b":5,"a":1.45},{"l":74.5,"b":7.5,"a":2.25},{"l":74.5,"b":10,"a":2.4},{"l":74.5,"b":12.5,"a":1.9},{"l":74.5,"b":15,"a":0.94},
{"l":75,"b":5,"a":1.37},{"l":75,"b":7.5,"a":2.18},{"l":75,"b":10,"a":2.33},{"l":75,"b":12.5,"a":1.84},{"l":75,"b":15,"a":0.88},
{"l":75.5,"b":5,"a":1.3},{"l":75.5,"b":7.5,"a":2.11},{"l":75.5,"b":10,"a":2.27},{"l":75.5,"b":12.5,"a":1.78},{"l":75.5,"b":15,"a":0.83},
{"l":76,"b":5,"a":1.23},{"l":76,"b":7.5,"a":2.04},{"l":76,"b":10,"a":2.2},{"l":76,"b":12.5,"a":1.72},{"l":76,"b":15,"a":0.77},
{"l":76.5,"b":5,"a":1.16},{"l":76.5,"b":7.5,"a":1.98},{"l":76.5,"b":10,"a":2.13},{"l":76.5,"b":12.5,"a":1.66},{"l":76.5,"b":15,"a":0.72},
{"l":77,"b":5,"a":1.08},{"l":77,"b":7.5,"a":1.91},{"l":77,"b":10,"a":2.06},{"l":77,"b":12.5,"a":1.6},{"l":77,"b":15,"a":0.66},
{"l":77.5,"b":5,"a":1.01},{"l":77.5,"b":7.5,"a":1.84},{"l":77.5,"b":10,"a":2},{"l":77.5,"b":12.5,"a":1.54},{"l":77.5,"b":15,"a":0.61},
{"l":78,"b":5,"a":0.93},{"l":78,"b":7.5,"a":1.77},{"l":78,"b":10,"a":1.93},{"l":78,"b":12.5,"a":1.48},{"l":78,"b":15,"a":0.55},
{"l":78.5,"b":5,"a":0.86},{"l":78.5,"b":7.5,"a":1.71},{"l":78.5,"b":10,"a":1.87},{"l":78.5,"b":12.5,"a":1.42},{"l":78.5,"b":15,"a":0.5},
{"l":79,"b":5,"a":0.79},{"l":79,"b":7.5,"a":1.64},{"l":79,"b":10,"a":1.8},{"l":79,"b":12.5,"a":1.36},{"l":79,"b":15,"a":0.44},
{"l":79.5,"b":5,"a":0.72},{"l":79.5,"b":7.5,"a":1.57},{"l":79.5,"b":10,"a":1.74},{"l":79.5,"b":12.5,"a":1.31},{"l":79.5,"b":15,"a":0.39},
{"l":80,"b":5,"a":0.64},{"l":80,"b":7.5,"a":1.5},{"l":80,"b":10,"a":1.67},{"l":80,"b":12.5,"a":1.25},{"l":80,"b":15,"a":0.33},
{"l":80.5,"b":5,"a":0.57},{"l":80.5,"b":7.5,"a":1.44},{"l":80.5,"b":10,"a":1.61},{"l":80.5,"b":12.5,"a":1.2},{"l":80.5,"b":15,"a":0.28},
{"l":81,"b":5,"a":0.5},{"l":81,"b":7.5,"a":1.38},{"l":81,"b":10,"a":1.54},{"l":81,"b":12.5,"a":1.14},{"l":81,"b":15,"a":0.22},
{"l":81.5,"b":5,"a":0.43},{"l":81.5,"b":7.5,"a":1.32},{"l":81.5,"b":10,"a":1.48},{"l":81.5,"b":12.5,"a":1.09},{"l":81.5,"b":15,"a":0.17},
{"l":82,"b":5,"a":0.35},{"l":82,"b":7.5,"a":1.25},{"l":82,"b":10,"a":1.42},{"l":82,"b":12.5,"a":1.03},{"l":82,"b":15,"a":0.11},
{"l":82.5,"b":5,"a":0.28},{"l":82.5,"b":7.5,"a":1.19},{"l":82.5,"b":10,"a":1.36},{"l":82.5,"b":12.5,"a":0.98},{"l":82.5,"b":15,"a":0.06},
{"l":83,"b":5,"a":0.2},{"l":83,"b":7.5,"a":1.13},{"l":83,"b":10,"a":1.3},{"l":83,"b":12.5,"a":0.92},{"l":83,"b":15,"a":0},
{"l":83.5,"b":5,"a":0.13},{"l":83.5,"b":7.5,"a":1.07},{"l":83.5,"b":10,"a":1.24},{"l":83.5,"b":12.5,"a":0.87},{"l":83.5,"b":15,"a":-0.05},
{"l":84,"b":5,"a":0.06},{"l":84,"b":7.5,"a":1},{"l":84,"b":10,"a":1.17},{"l":84,"b":12.5,"a":0.81},{"l":84,"b":15,"a":-0.11},
{"l":84.5,"b":5,"a":-0.02},{"l":84.5,"b":7.5,"a":0.94},{"l":84.5,"b":10,"a":1.11},{"l":84.5,"b":12.5,"a":0.76},{"l":84.5,"b":15,"a":-0.16},
{"l":85,"b":5,"a":-0.09},{"l":85,"b":7.5,"a":0.88},{"l":85,"b":10,"a":1.05},{"l":85,"b":12.5,"a":0.71},{"l":85,"b":15,"a":-0.22},
{"l":85.5,"b":5,"a":-0.16},{"l":85.5,"b":7.5,"a":0.82},{"l":85.5,"b":10,"a":0.99},{"l":85.5,"b":12.5,"a":0.66},{"l":85.5,"b":15,"a":-0.27},
{"l":86,"b":5,"a":-0.23},{"l":86,"b":7.5,"a":0.76},{"l":86,"b":10,"a":0.93},{"l":86,"b":12.5,"a":0.6},{"l":86,"b":15,"a":-0.33},
{"l":86.5,"b":5,"a":-0.31},{"l":86.5,"b":7.5,"a":0.7},{"l":86.5,"b":10,"a":0.87},{"l":86.5,"b":12.5,"a":0.55},{"l":86.5,"b":15,"a":-0.38},
{"l":87,"b":5,"a":-0.38},{"l":87,"b":7.5,"a":0.63},{"l":87,"b":10,"a":0.8},{"l":87,"b":12.5,"a":0.49},{"l":87,"b":15,"a":-0.44},
{"l":87.5,"b":5,"a":-0.46},{"l":87.5,"b":7.5,"a":0.57},{"l":87.5,"b":10,"a":0.74},{"l":87.5,"b":12.5,"a":0.44},{"l":87.5,"b":15,"a":-0.49},
{"l":88,"b":5,"a":-0.53},{"l":88,"b":7.5,"a":0.51},{"l":88,"b":10,"a":0.68},{"l":88,"b":12.5,"a":0.38},{"l":88,"b":15,"a":-0.55},
{"l":88.5,"b":5,"a":-0.6},{"l":88.5,"b":7.5,"a":0.45},{"l":88.5,"b":10,"a":0.62},{"l":88.5,"b":12.5,"a":0.33},{"l":88.5,"b":15,"a":-0.6},
{"l":89,"b":5,"a":-0.67},{"l":89,"b":7.5,"a":0.38},{"l":89,"b":10,"a":0.56},{"l":89,"b":12.5,"a":0.27},{"l":89,"b":15,"a":-0.66},
{"l":89.5,"b":5,"a":-0.75},{"l":89.5,"b":7.5,"a":0.32},{"l":89.5,"b":10,"a":0.5},{"l":89.5,"b":12.5,"a":0.22},{"l":89.5,"b":15,"a":-0.71},
{"l":90,"b":5,"a":-0.82},{"l":90,"b":7.5,"a":0.26},{"l":90,"b":10,"a":0.43},{"l":90,"b":12.5,"a":0.17},{"l":90,"b":15,"a":-0.77},
{"l":90.5,"b":5,"a":-0.89},{"l":90.5,"b":7.5,"a":0.2},{"l":90.5,"b":10,"a":0.37},{"l":90.5,"b":12.5,"a":0.12},{"l":90.5,"b":15,"a":-0.82},
{"l":91,"b":5,"a":-0.96},{"l":91,"b":7.5,"a":0.14},{"l":91,"b":10,"a":0.31},{"l":91,"b":12.5,"a":0.06},{"l":91,"b":15,"a":-0.88},
{"l":91.5,"b":5,"a":-1.04},{"l":91.5,"b":7.5,"a":0.08},{"l":91.5,"b":10,"a":0.25},{"l":91.5,"b":12.5,"a":0},{"l":91.5,"b":15,"a":-0.93},
{"l":92,"b":5,"a":-1.11},{"l":92,"b":7.5,"a":0.01},{"l":92,"b":10,"a":0.19},{"l":92,"b":12.5,"a":-0.05},{"l":92,"b":15,"a":-0.99},
{"l":92.5,"b":5,"a":-1.18},{"l":92.5,"b":7.5,"a":-0.05},{"l":92.5,"b":10,"a":0.13},{"l":92.5,"b":12.5,"a":-0.1},{"l":92.5,"b":15,"a":-1.04}]},
"encoding":{"x":{"field":"a","type":"quantitative","stack":null,"scale":{"domain":[0,4],"nice":false,"zero":false},"axis":{"title":"A: Water volume (mL)","values":[0,1,2,3,4],"grid":false,"domain":false,"tickSize":27,"tickColor":"#888888","tickWidth":2,"labelFontSize":28,"labelColor":"#333333","labelPadding":14,"titleFontSize":38,"titleFontWeight":"normal","titleColor":"#333333","titlePadding":42,"labelFlush":false,"labelOverlap":false}},"y":{"field":"b","type":"quantitative","scale":{"domain":[5,15],"nice":false,"zero":false},"axis":{"title":"B: Solvent volume (mL)","values":[5,7,9,11,13,15],"grid":false,"domain":false,"tickSize":25,"tickColor":"#888888","tickWidth":2,"labelFontSize":28,"labelColor":"#333333","labelPadding":9,"titleFontSize":35,"titleFontWeight":"normal","titleColor":"#333333","titlePadding":78,"labelFlush":false,"labelOverlap":false}}},
"layer":[
{"mark":{"type":"area","orient":"horizontal","interpolate":"natural","clip":true},"encoding":{"detail":{"field":"l"},"fill":{"field":"l","type":"quantitative","legend":null,"scale":{"domain":[47.5,59,70.6,81.7,92.5],"range":["#0000ff","#00ffff","#00ff00","#ffff00","#ff0000"],"interpolate":"rgb"}}}},
{"transform":[{"filter":{"field":"l","oneOf":[50,60,70,80,90]}}],"mark":{"type":"line","interpolate":"natural","clip":true,"stroke":"#222222","strokeWidth":1.6,"strokeOpacity":0.8},"encoding":{"detail":{"field":"l"},"order":{"field":"b"}}},
{"data":{"values":[{"a":0.43,"b":10,"t":"90"},{"a":1.62,"b":10.42,"t":"80"},{"a":2.86,"b":10.66,"t":"70"},{"a":3.3,"b":13.47,"t":"60"},{"a":3.85,"b":14.6,"t":"50"},{"a":3.81,"b":5.66,"t":"60"}]},"mark":{"type":"rect","width":40,"height":32,"fill":"white","stroke":"#999999","strokeWidth":1.5}},
{"data":{"values":[{"a":0.43,"b":10,"t":"90"},{"a":1.62,"b":10.42,"t":"80"},{"a":2.86,"b":10.66,"t":"70"},{"a":3.3,"b":13.47,"t":"60"},{"a":3.85,"b":14.6,"t":"50"},{"a":3.81,"b":5.66,"t":"60"},{"a":1.9,"b":10,"t":"5"}]},"mark":{"type":"text","fontSize":23,"color":"#333333"},"encoding":{"text":{"field":"t"}}},
{"data":{"values":[{"a":0,"b":5},{"a":4,"b":5},{"a":0,"b":15},{"a":4,"b":15},{"a":2,"b":10}]},"mark":{"type":"point","filled":true,"fill":"#c40000","stroke":"#7a0000","strokeWidth":1.5,"opacity":1,"size":340,"clip":false}}
]}
]}
